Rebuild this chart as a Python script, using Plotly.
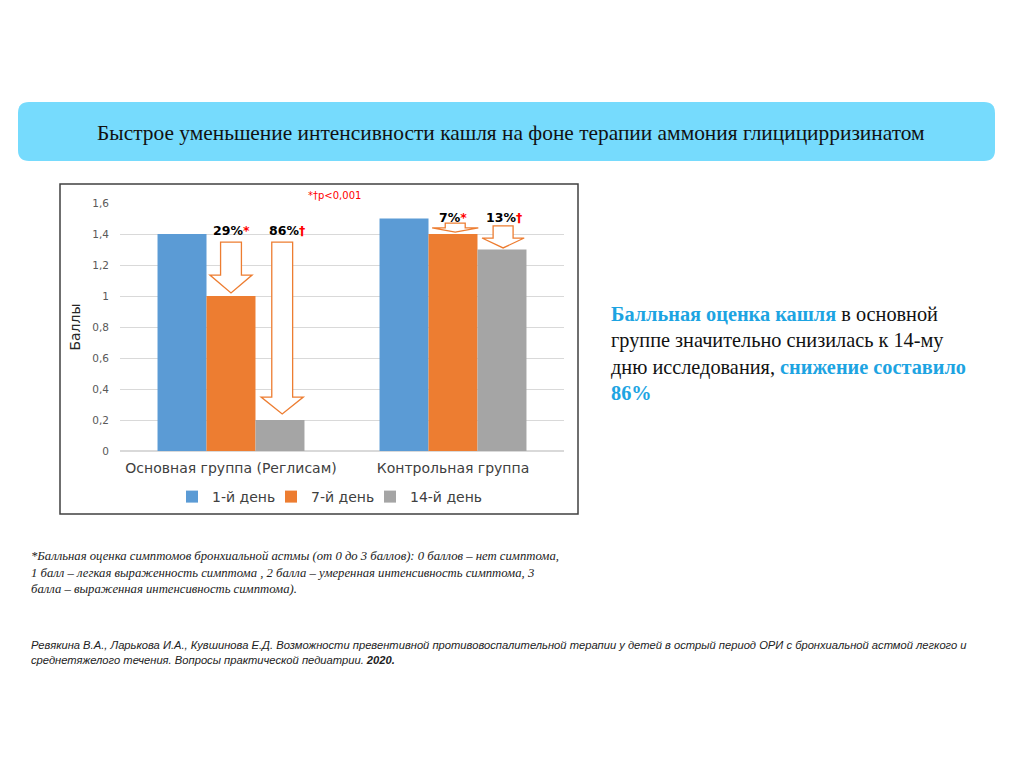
import plotly.graph_objects as go

# ---------------- data ----------------
categories = ["Основная группа (Реглисам)", "Контрольная группа"]
series_names = ["1-й день", "7-й день", "14-й день"]
day1 = [1.4, 1.5]
day7 = [1.0, 1.4]
day14 = [0.2, 1.3]
pct_labels_day7 = ["29%", "7%"]
pct_labels_day14 = ["86%", "13%"]
y_ticks = [0, 0.2, 0.4, 0.6, 0.8, 1.0, 1.2, 1.4, 1.6]

colors = ["#5B9BD5", "#ED7D31", "#A5A5A5"]
ORANGE = "#ED7D31"
RED = "#FF0000"

OFF = 8  # page body margin
W, H = 1024, 767
PL, PR, PT, PB = 120, 564, 203, 451  # plot area in window pixels


def px(x):
    return (x - PL) / (PR - PL)


def py(y):
    return (PB - y) / (PB - PT)


BARGAP = 0.338
bw = (1 - BARGAP) / 3  # bar width in category units

fig = go.Figure()
for name, vals, c in zip(series_names, [day1, day7, day14], colors):
    fig.add_trace(go.Bar(x=categories, y=vals, name=name, marker=dict(color=c, line=dict(width=0))))
# invisible spacer entry so the last legend label is not clipped
fig.add_trace(go.Scatter(x=[None], y=[None], name=" ", mode="markers",
                         marker=dict(color="rgba(0,0,0,0)"), hoverinfo="skip"))

shapes = []


def arrow(cx, top, head, tip, shw, hhw):
    p = (f"M {cx-shw},{top} L {cx+shw},{top} L {cx+shw},{head} L {cx+hhw},{head} "
         f"L {cx},{tip} L {cx-hhw},{head} L {cx-shw},{head} Z")
    return dict(type="path", xref="x", yref="y", path=p,
                line=dict(color=ORANGE, width=1.3), fillcolor="white", layer="above")


# arrows derived from series values
shapes.append(arrow(0 + 0 * bw, day1[0] - 0.052, day7[0] + 0.135, day7[0] + 0.02, 0.047, 0.095))
shapes.append(arrow(0 + 1 * bw + 0.01, day1[0] - 0.052, day14[0] + 0.148, day14[0] + 0.039, 0.047, 0.095))
shapes.append(arrow(1 + 0 * bw + 0.01, day1[1] - 0.03, day7[1] + 0.04, day7[1] + 0.012, 0.045, 0.104))
shapes.append(arrow(1 + 1 * bw + 0.005, day1[1] - 0.048, day14[1] + 0.074, day14[1] + 0.01, 0.045, 0.095))

# chart frame
shapes.append(dict(type="rect", xref="paper", yref="paper", x0=px(60), x1=px(578), y0=py(514), y1=py(184),
                   line=dict(color="#404040", width=1.5), fillcolor="rgba(0,0,0,0)", layer="above"))

# header rounded box
x0, x1, y0, y1, r = px(18), px(995), py(102), py(161), 11
rx, ry = r / (PR - PL), r / (PB - PT)
hp = (f"M {x0+rx},{y0} L {x1-rx},{y0} Q {x1},{y0} {x1},{y0-ry} L {x1},{y1+ry} Q {x1},{y1} {x1-rx},{y1} "
      f"L {x0+rx},{y1} Q {x0},{y1} {x0},{y1+ry} L {x0},{y0-ry} Q {x0},{y0} {x0+rx},{y0} Z")
shapes.append(dict(type="path", xref="paper", yref="paper", path=hp, line=dict(width=0),
                   fillcolor="#76DBFD", layer="below"))

annotations = []
lab_font = dict(family="DejaVu Sans", size=12.5, color="#000000")
for i in range(2):
    annotations.append(dict(xref="x", yref="paper", x=i + 0 * bw,
                            y=py(230 if i == 0 else 217),
                            text=f"<b>{pct_labels_day7[i]}</b><span style='color:{RED}'><b>*</b></span>",
                            showarrow=False, font=lab_font, xanchor="center", yanchor="middle"))
    annotations.append(dict(xref="x", yref="paper", x=i + 1 * bw + (0.03 if i == 0 else 0.01),
                            y=py(230 if i == 0 else 217),
                            text=f"<b>{pct_labels_day14[i]}</b><span style='color:{RED}'><b>†</b></span>",
                            showarrow=False, font=lab_font, xanchor="center", yanchor="middle"))
annotations.append(dict(xref="paper", yref="paper", x=px(334), y=py(195), text="*†p<0,001",
                        showarrow=False, font=dict(family="DejaVu Sans", size=10, color=RED),
                        xanchor="center", yanchor="middle"))

# header text
annotations.append(dict(xref="paper", yref="paper", x=px(511), y=py(133),
                        text="Быстрое уменьшение интенсивности кашля на фоне терапии аммония глицицирризинатом",
                        showarrow=False, font=dict(family="Liberation Serif", size=21.4, color="#111111"),
                        xanchor="center", yanchor="middle"))

# right-hand text
BLUE = "#1DA4E2"
rt = (f"<b><span style='color:{BLUE}'>Балльная оценка кашля</span></b> в основной<br>"
      f"группе значительно снизилась к 14-му<br>"
      f"дню исследования, <b><span style='color:{BLUE}'>снижение составило</span></b><br>"
      f"<b><span style='color:{BLUE}'>86%</span></b>")
annotations.append(dict(xref="paper", yref="paper", x=px(609), y=py(301), text=rt, align="left",
                        showarrow=False, font=dict(family="Liberation Serif", size=20.3, color="#111111"),
                        xanchor="left", yanchor="top"))

# footnote
fn = ("<i>*Балльная оценка симптомов бронхиальной астмы (от 0 до 3 баллов): 0 баллов – нет симптома,<br>"
      "1 балл – легкая выраженность симптома , 2 балла – умеренная интенсивность симптома, 3<br>"
      "балла – выраженная интенсивность симптома).</i>")
annotations.append(dict(xref="paper", yref="paper", x=px(29), y=py(547), text=fn, align="left",
                        showarrow=False, font=dict(family="Liberation Serif", size=12.7, color="#222222"),
                        xanchor="left", yanchor="top"))

ref = ("<i>Ревякина В.А., Ларькова И.А., Кувшинова Е.Д. Возможности превентивной противовоспалительной терапии у детей в острый период ОРИ с бронхиальной астмой легкого и<br>"
       "среднетяжелого течения. Вопросы практической педиатрии. <b>2020.</b></i>")
annotations.append(dict(xref="paper", yref="paper", x=px(29), y=py(637), text=ref, align="left",
                        showarrow=False, font=dict(family="Liberation Sans", size=11.2, color="#222222"),
                        xanchor="left", yanchor="top"))

fig.update_layout(
    width=W, height=H, autosize=False,
    margin=dict(l=PL - OFF, r=W - PR + OFF, t=PT - OFF, b=H - PB + OFF, pad=0),
    paper_bgcolor="white", plot_bgcolor="white",
    barmode="group", bargap=BARGAP, bargroupgap=0,
    separators=", ",
    showlegend=True,
    legend=dict(orientation="h", x=px(172), xanchor="left", y=py(497), yanchor="middle",
                font=dict(family="DejaVu Sans", size=14, color="#404040"),
                itemwidth=30, entrywidth=54, entrywidthmode="pixels", bgcolor="rgba(0,0,0,0)"),
    shapes=shapes, annotations=annotations,
    font=dict(family="DejaVu Sans"),
)
fig.update_xaxes(range=[-0.5, 1.5], showgrid=False, showline=False, ticks="",
                 tickfont=dict(family="DejaVu Sans", size=14, color="#404040"), ticklabelstandoff=7)
fig.update_yaxes(range=[0, 1.6], tickvals=y_ticks, showgrid=True, gridcolor="#D9D9D9", gridwidth=1,
                 zeroline=True, zerolinecolor="#D9D9D9", showline=False, ticks="",
                 tickfont=dict(family="DejaVu Sans", size=10.5, color="#595959"), ticklabelstandoff=10,
                 title=dict(text="Баллы", font=dict(family="DejaVu Sans", size=14, color="#262626"), standoff=8))

fig.write_html("out.html")
